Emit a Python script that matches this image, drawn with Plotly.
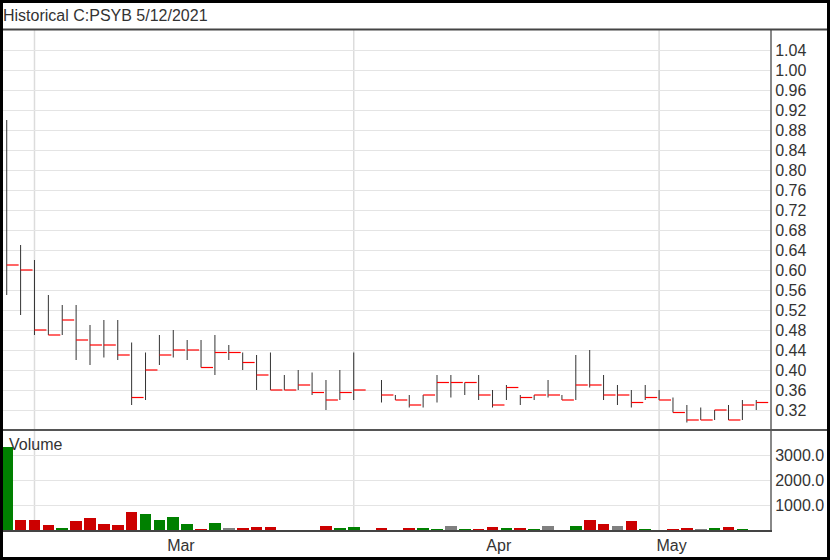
import plotly.graph_objects as go

# ---------------- data ----------------
dates = [
    "2021-02-25", "2021-02-26",
    "2021-03-01", "2021-03-02", "2021-03-03", "2021-03-04", "2021-03-05",
    "2021-03-08", "2021-03-09", "2021-03-10", "2021-03-11", "2021-03-12",
    "2021-03-15", "2021-03-16", "2021-03-17", "2021-03-18", "2021-03-19",
    "2021-03-22", "2021-03-23", "2021-03-24", "2021-03-25", "2021-03-26",
    "2021-03-29", "2021-03-30", "2021-03-31",
    "2021-04-01", "2021-04-02",
    "2021-04-05", "2021-04-06", "2021-04-07", "2021-04-08", "2021-04-09",
    "2021-04-12", "2021-04-13", "2021-04-14", "2021-04-15", "2021-04-16",
    "2021-04-19", "2021-04-20", "2021-04-21", "2021-04-22", "2021-04-23",
    "2021-04-26", "2021-04-27", "2021-04-28", "2021-04-29", "2021-04-30",
    "2021-05-03", "2021-05-04", "2021-05-05", "2021-05-06", "2021-05-07",
    "2021-05-10", "2021-05-11", "2021-05-12",
]

high = [0.90, 0.65, 0.62, 0.55, 0.53, 0.53, 0.49, 0.50, 0.50, 0.455,
        0.435, 0.47, 0.48, 0.46, 0.46, 0.47, 0.45, 0.435, 0.43, 0.435,
        0.39, 0.40, 0.395, 0.38, 0.40, 0.435, None, 0.38, 0.35, 0.35,
        0.35, 0.39, 0.39, 0.375, 0.39, 0.36, 0.37, 0.35, 0.35, 0.38,
        0.35, 0.43, 0.44, 0.39, 0.37, 0.36, 0.37, 0.36, 0.345, 0.33,
        0.325, 0.32, 0.33, 0.34, 0.34]

low = [0.55, 0.51, 0.47, 0.47, 0.47, 0.42, 0.41, 0.425, 0.42, 0.33,
       0.34, 0.41, 0.425, 0.42, 0.405, 0.39, 0.42, 0.40, 0.36, 0.36,
       0.36, 0.36, 0.35, 0.32, 0.34, 0.34, None, 0.335, 0.34, 0.325,
       0.325, 0.335, 0.345, 0.35, 0.34, 0.325, 0.34, 0.33, 0.34, 0.345,
       0.34, 0.34, 0.365, 0.34, 0.33, 0.325, 0.34, 0.34, 0.315, 0.295,
       0.30, 0.30, 0.30, 0.30, 0.32]

close = [0.61, 0.60, 0.48, 0.47, 0.50, 0.46, 0.45, 0.45, 0.43, 0.345,
         0.40, 0.43, 0.44, 0.44, 0.405, 0.435, 0.435, 0.415, 0.39, 0.36,
         0.36, 0.37, 0.355, 0.34, 0.355, 0.36, None, 0.35, 0.34, 0.33,
         0.35, 0.375, 0.375, 0.375, 0.35, 0.33, 0.365, 0.345, 0.35, 0.35,
         0.34, 0.37, 0.37, 0.35, 0.35, 0.335, 0.345, 0.34, 0.315, 0.30,
         0.30, 0.32, 0.30, 0.33, 0.335]

volume_k = [3330, 410, 410, 200, 70, 370, 470, 240, 200, 730,
            640, 400, 510, 230, 50, 280, 70, 90, 130, 120,
            15, 8, 15, 170, 80, 120, None, 65, 15, 75,
            90, 55, 170, 55, 55, 130, 65, 95, 40, 170,
            15, 170, 390, 230, 160, 350, 55, 15, 55, 80,
            55, 80, 120, 55, 15]

# u = up (green), d = down (red), f = flat (gray)
volume_dir = ["u", "d", "d", "d", "u", "d", "d", "d", "d", "d",
              "u", "u", "u", "u", "d", "u", "f", "d", "d", "d",
              "f", "u", "d", "d", "u", "u", "f", "d", "d", "d",
              "u", "u", "f", "u", "d", "d", "u", "d", "u", "f",
              "d", "u", "d", "d", "f", "d", "u", "d", "d", "d",
              "f", "u", "d", "u", "u"]

price_ticks = [0.32, 0.36, 0.40, 0.44, 0.48, 0.52, 0.56, 0.60, 0.64, 0.68,
               0.72, 0.76, 0.80, 0.84, 0.88, 0.92, 0.96, 1.00, 1.04]
volume_ticks = [1000, 2000, 3000]
volume_tick_text = ["1000.0", "2000.0", "3000.0"]
month_labels = ["Mar", "Apr", "May"]
month_label_pos = [12.55, 35.45, 47.9]
title_text = "Historical C:PSYB 5/12/2021"

# ---------------- build ----------------
FONT = "Liberation Sans, Arial, sans-serif"
TXT = "#333333"
n = len(dates)
xi = list(range(n))

# high-low vertical lines
vx, vy = [], []
for i in xi:
    if high[i] is None:
        continue
    vx += [i, i, None]
    vy += [low[i], high[i], None]

# close ticks (to the right)
cx, cy = [], []
TICK = 0.86
for i in xi:
    if close[i] is None:
        continue
    cx += [i, i + TICK, None]
    cy += [close[i], close[i], None]

col_map = {"u": "#008000", "d": "#cc0000", "f": "#808080"}
vol_colors = [col_map[d] for d in volume_dir]

fig = go.Figure()
fig.add_trace(go.Scatter(x=vx, y=vy, mode="lines", line=dict(color="#333333", width=1),
                         hoverinfo="skip", showlegend=False, yaxis="y", xaxis="x"))
fig.add_trace(go.Scatter(x=cx, y=cy, mode="lines", line=dict(color="#ff0000", width=1.2),
                         hoverinfo="skip", showlegend=False, yaxis="y", xaxis="x"))
fig.add_trace(go.Bar(x=xi, y=volume_k, marker=dict(color=vol_colors, line=dict(width=0)),
                     width=0.84, hoverinfo="skip", showlegend=False, yaxis="y2", xaxis="x"))

# month-start gridlines (derived from dates)
month_starts = [i for i in range(1, n) if dates[i][5:7] != dates[i - 1][5:7]]
shapes = []
for m in month_starts:
    shapes.append(dict(type="line", xref="x", yref="paper", x0=m, x1=m, y0=0, y1=1,
                       line=dict(color="#dcdcdc", width=1.5), layer="below"))

PW = 768.0   # plot width px
PH = 500.0   # plot height px
def px_x(p):
    return (p - 2) / PW
def px_y(p):
    return (530 - p) / PH

# separators
shapes.append(dict(type="line", xref="paper", yref="paper", x0=px_x(0), x1=px_x(830),
                   y0=px_y(29.5), y1=px_y(29.5), line=dict(color="#444444", width=2), layer="above"))
shapes.append(dict(type="line", xref="paper", yref="paper", x0=px_x(0), x1=px_x(830),
                   y0=0.2, y1=0.2, line=dict(color="#555555", width=2), layer="above"))
# outer border
shapes.append(dict(type="rect", xref="paper", yref="paper", x0=px_x(1.5), x1=px_x(828.5),
                   y0=px_y(558.5), y1=px_y(1.5), line=dict(color="#000000", width=3),
                   fillcolor="rgba(0,0,0,0)", layer="above"))

fig.update_layout(
    width=830, height=560, autosize=False,
    margin=dict(l=2, r=60, t=30, b=30, pad=0, autoexpand=False),
    paper_bgcolor="white", plot_bgcolor="white",
    font=dict(family=FONT, size=16, color=TXT),
    title=dict(text=title_text, x=3 / 830, xanchor="left", y=1 - 15 / 560, yanchor="middle",
               font=dict(family=FONT, size=16, color=TXT), automargin=False),
    bargap=0,
    xaxis=dict(domain=[0, 1], range=[-0.34, 54.99], anchor="y2", showgrid=False,
               zeroline=False, tickmode="array", tickvals=month_label_pos, ticktext=month_labels,
               ticks="", showline=True, linecolor="#444444", linewidth=2, automargin=False,
               tickfont=dict(family=FONT, size=16, color=TXT), fixedrange=True),
    yaxis=dict(domain=[0.2, 1], range=[0.28, 1.08], side="right", anchor="x",
               tickmode="array", tickvals=price_ticks, tickformat=".2f",
               gridcolor="#e4e4e4", gridwidth=1, zeroline=False, ticks="",
               showline=True, linecolor="#888888", linewidth=2, automargin=False,
               tickfont=dict(family=FONT, size=16, color=TXT), fixedrange=True),
    yaxis2=dict(domain=[0, 0.2], range=[0, 4000], side="right", anchor="x",
                tickmode="array", tickvals=volume_ticks, ticktext=volume_tick_text,
                gridcolor="#e4e4e4", gridwidth=1, zeroline=False, ticks="",
                showline=True, linecolor="#888888", linewidth=2, automargin=False,
                tickfont=dict(family=FONT, size=16, color=TXT), fixedrange=True),
    shapes=shapes,
    annotations=[dict(text="Volume", xref="paper", yref="paper", x=px_x(7), y=px_y(444),
                      xanchor="left", yanchor="middle", showarrow=False,
                      font=dict(family=FONT, size=16, color=TXT))],
)

fig.write_html(
    "out.html",
    config={"displayModeBar": False, "staticPlot": True},
    post_script="document.body.style.margin='0';document.body.style.padding='0';"
                "document.body.style.overflow='hidden';",
)
